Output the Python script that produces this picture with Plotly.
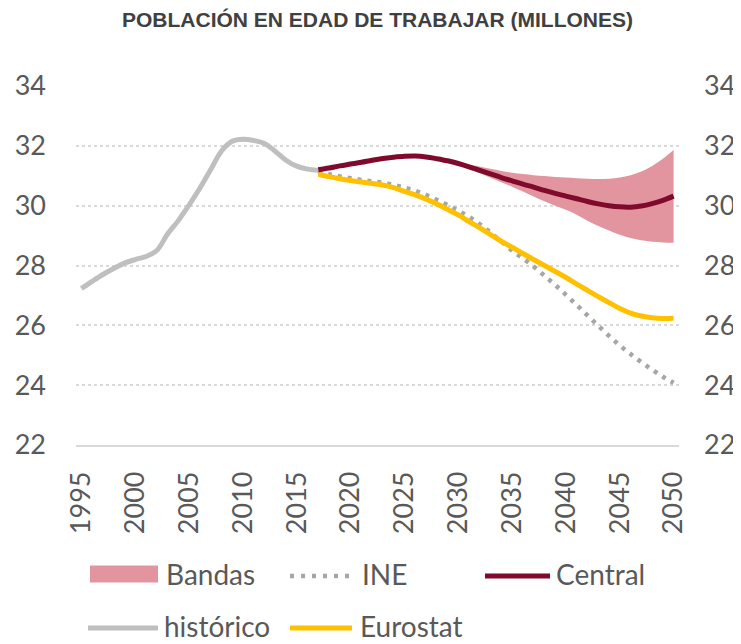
import plotly.graph_objs as go

# historical series
hist_years = list(range(1995, 2018))
historico = [27.23, 27.47, 27.70, 27.90, 28.08, 28.20, 28.30, 28.50, 29.05, 29.50,
             30.02, 30.58, 31.20, 31.82, 32.15, 32.22, 32.18, 32.08, 31.82, 31.52,
             31.32, 31.22, 31.18]

# projections
proj_years = list(range(2017, 2051))
central = [31.20, 31.26, 31.33, 31.39, 31.45, 31.52, 31.58, 31.62, 31.65, 31.66,
           31.63, 31.57, 31.50, 31.41, 31.30, 31.18, 31.06, 30.94, 30.83, 30.72,
           30.62, 30.51, 30.41, 30.32, 30.23, 30.14, 30.06, 30.00, 29.96, 29.95,
           29.99, 30.07, 30.18, 30.32]
ine = [31.15, 31.05, 30.98, 30.92, 30.86, 30.81, 30.77, 30.70, 30.60, 30.50,
       30.36, 30.20, 30.02, 29.83, 29.63, 29.38, 29.10, 28.80, 28.50, 28.24,
       27.97, 27.66, 27.35, 27.02, 26.68, 26.33, 25.99, 25.65, 25.33, 25.04,
       24.77, 24.52, 24.28, 24.08]
eurostat = [31.05, 30.97, 30.90, 30.84, 30.79, 30.74, 30.69, 30.60, 30.48, 30.36,
            30.22, 30.06, 29.88, 29.69, 29.47, 29.26, 29.03, 28.81, 28.61, 28.40,
            28.20, 28.00, 27.80, 27.60, 27.38, 27.17, 26.96, 26.76, 26.56, 26.41,
            26.31, 26.25, 26.23, 26.24]

# uncertainty bands
band_years = list(range(2029, 2051))
band_upper = [31.50, 31.44, 31.38, 31.31, 31.23, 31.16, 31.10, 31.06, 31.02, 30.99,
              30.96, 30.94, 30.92, 30.90, 30.89, 30.90, 30.94, 31.02, 31.14, 31.33,
              31.57, 31.86]
band_lower = [31.50, 31.38, 31.24, 31.08, 30.93, 30.78, 30.63, 30.47, 30.31, 30.15,
              30.00, 29.86, 29.70, 29.50, 29.32, 29.17, 29.03, 28.92, 28.84, 28.79,
              28.77, 28.76]

y_ticks = [22, 24, 26, 28, 30, 32, 34]
x_ticks = list(range(1995, 2051, 5))

C_BAND = "#e2959e"
C_INE = "#a6a6a6"
C_CENTRAL = "#7f0a2c"
C_HIST = "#bfbfbf"
C_EURO = "#ffc000"
TXT = "#595959"
FONT = "Lato"

# the page body adds an 8px margin, so the figure is a bit smaller than the window
OFF = 8
W, H = 741 - OFF, 644 - OFF
L, R, T, B = 76 - OFF, 62, 86 - OFF, 199
PW, PH = W - L - R, H - T - B


def px(x):
    # window pixel -> paper fraction
    return (x - OFF - L) / PW


def py(y):
    return (H - B - (y - OFF)) / PH


fig = go.Figure()

fig.add_trace(go.Scatter(x=band_years, y=band_lower, mode='lines', line=dict(width=0, shape='spline'),
                         showlegend=False, hoverinfo='skip'))
fig.add_trace(go.Scatter(x=band_years, y=band_upper, mode='lines', line=dict(width=0, shape='spline'),
                         fill='tonexty', fillcolor=C_BAND, name='Bandas', showlegend=False))
fig.add_trace(go.Scatter(x=proj_years, y=ine, mode='lines', name='INE', showlegend=False,
                         line=dict(color=C_INE, width=4.5, dash='4px,6px', shape='spline')))
fig.add_trace(go.Scatter(x=hist_years, y=historico, mode='lines', name='histórico', showlegend=False,
                         line=dict(color=C_HIST, width=5, shape='spline')))
fig.add_trace(go.Scatter(x=proj_years, y=eurostat, mode='lines', name='Eurostat', showlegend=False,
                         line=dict(color=C_EURO, width=5, shape='spline')))
fig.add_trace(go.Scatter(x=proj_years, y=central, mode='lines', name='Central', showlegend=False,
                         line=dict(color=C_CENTRAL, width=5, shape='spline')))
# right-hand axis
fig.add_trace(go.Scatter(x=[1995, 2050], y=[22, 34], yaxis='y2', mode='lines',
                         line=dict(width=0), showlegend=False, hoverinfo='skip'))

fig.update_layout(
    width=W, height=H,
    margin=dict(l=L, r=R, t=T, b=B),
    paper_bgcolor='white', plot_bgcolor='white',
    font=dict(family=FONT, size=27, color=TXT),
    title=dict(text='<b>POBLACIÓN EN EDAD DE TRABAJAR (MILLONES)</b>',
               x=0.5, xref='paper', xanchor='center', y=1 - (20 - OFF) / H, yanchor='middle',
               font=dict(family='Liberation Sans', size=21, color='#404040')),
    xaxis=dict(range=[1994.5, 2050.5], tickvals=x_ticks, tickangle=-90, showgrid=False,
               showline=True, linecolor='#d9d9d9', linewidth=1.5, ticks='',
               ticklabelstandoff=14, zeroline=False, automargin=False),
    yaxis=dict(range=[22, 34], tickvals=y_ticks, showgrid=True, gridcolor='#d9d9d9',
               griddash='dot', gridwidth=1.5, zeroline=False, ticks='',
               ticklabelstandoff=29, automargin=False),
    yaxis2=dict(range=[22, 34], tickvals=y_ticks, overlaying='y', side='right',
                showgrid=False, zeroline=False, ticks='', ticklabelstandoff=24,
                automargin=False),
    showlegend=False,
)

# legend drawn by hand to match the swatch sizes (window pixel positions)
legend_rows = [
    [('rect', C_BAND, 'Bandas', 90, 158, 165), ('dot', C_INE, 'INE', 290, 355, 361),
     ('line', C_CENTRAL, 'Central', 485, 550, 555)],
    [('line', C_HIST, 'histórico', 88, 158, 163), ('line', C_EURO, 'Eurostat', 290, 352, 359)],
]
row_y = [574, 626]
for row, yc in zip(legend_rows, row_y):
    for kind, col, label, x0, x1, xt in row:
        if kind == 'rect':
            fig.add_shape(type='rect', xref='paper', yref='paper', x0=px(x0), x1=px(x1),
                          y0=py(yc - 8.5), y1=py(yc + 8.5), fillcolor=col, line=dict(width=0))
        else:
            fig.add_shape(type='line', xref='paper', yref='paper', x0=px(x0), x1=px(x1),
                          y0=py(yc + 2), y1=py(yc + 2),
                          line=dict(color=col, width=5 if kind == 'line' else 4.5,
                                    dash='4px,7px' if kind == 'dot' else 'solid'))
        fig.add_annotation(x=px(xt), y=py(yc), xref='paper', yref='paper', text=label,
                           showarrow=False, xanchor='left', yanchor='middle', borderpad=0,
                           font=dict(family=FONT, size=28, color=TXT))

fig.write_html("out.html")
